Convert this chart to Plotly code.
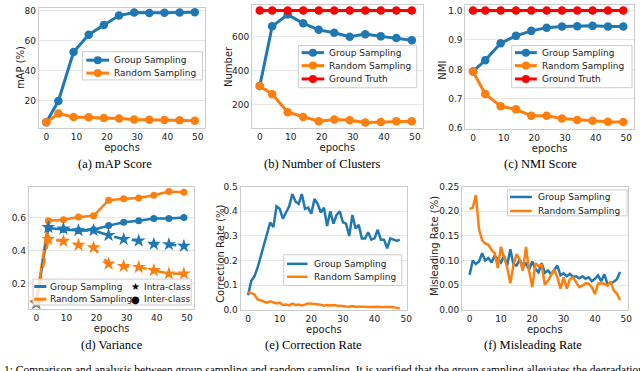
import plotly.graph_objects as go

W, H = 640, 371
BLUE, ORANGE, RED = "#1f77b4", "#ff7f0e", "#ff0000"
SANS, SERIF = "DejaVu Sans", "Liberation Serif"
TXT = "#222222"

# ---- data ----
epochs = [0, 4, 9, 14, 19, 24, 29, 34, 39, 44, 49]
epochs_all = list(range(49))

map_group = [5.5, 19.7, 52.5, 64.0, 70.5, 76.8, 78.8, 78.5, 78.7, 78.8, 79.0]
map_random = [5.5, 11.3, 9.0, 8.8, 8.3, 8.1, 7.4, 7.2, 7.0, 6.8, 6.6]

clusters_group = [310, 659, 727, 676, 638, 621, 598, 613, 600, 590, 577]
clusters_random = [310, 263, 158, 130, 105, 115, 111, 98, 100, 105, 105]
clusters_truth = [751, 751, 751, 751, 751, 751, 751, 751, 751, 751, 751]

nmi_group = [0.793, 0.831, 0.889, 0.914, 0.931, 0.942, 0.946, 0.947, 0.948, 0.946, 0.946]
nmi_random = [0.793, 0.716, 0.675, 0.664, 0.642, 0.642, 0.633, 0.628, 0.625, 0.622, 0.621]
nmi_truth = [1.0, 1.0, 1.0, 1.0, 1.0, 1.0, 1.0, 1.0, 1.0, 1.0, 1.0]

var_group_inter = [0.087, 0.536, 0.528, 0.522, 0.526, 0.551, 0.571, 0.580, 0.594, 0.594, 0.600]
var_group_intra = [0.083, 0.541, 0.532, 0.522, 0.522, 0.493, 0.469, 0.460, 0.440, 0.438, 0.428]
var_random_inter = [0.095, 0.580, 0.586, 0.602, 0.610, 0.703, 0.713, 0.717, 0.733, 0.756, 0.752]
var_random_intra = [0.090, 0.469, 0.458, 0.434, 0.419, 0.321, 0.307, 0.301, 0.282, 0.262, 0.262]

corr_group = [0.059, 0.118, 0.136, 0.171, 0.217, 0.263, 0.300, 0.355, 0.336, 0.420,
              0.410, 0.370, 0.395, 0.420, 0.470, 0.440, 0.430, 0.470, 0.410, 0.415,
              0.390, 0.450, 0.430, 0.395, 0.415, 0.340, 0.400, 0.350, 0.385, 0.400,
              0.355, 0.350, 0.300, 0.385, 0.330, 0.345, 0.290, 0.290, 0.315, 0.285,
              0.290, 0.325, 0.285, 0.285, 0.250, 0.290, 0.285, 0.280, 0.285]
corr_random = [0.072, 0.068, 0.063, 0.042, 0.037, 0.034, 0.029, 0.035, 0.029, 0.026,
               0.029, 0.020, 0.022, 0.018, 0.025, 0.020, 0.022, 0.018, 0.021, 0.026,
               0.025, 0.024, 0.022, 0.021, 0.017, 0.020, 0.018, 0.020, 0.018, 0.016,
               0.017, 0.014, 0.013, 0.016, 0.013, 0.014, 0.012, 0.013, 0.012, 0.013,
               0.012, 0.013, 0.012, 0.013, 0.013, 0.012, 0.011, 0.007, 0.005]

mis_group = [0.071, 0.100, 0.093, 0.098, 0.115, 0.100, 0.105, 0.096, 0.110, 0.102,
             0.096, 0.110, 0.090, 0.123, 0.092, 0.090, 0.102, 0.088, 0.094, 0.082,
             0.098, 0.083, 0.076, 0.095, 0.075, 0.080, 0.072, 0.081, 0.090, 0.070,
             0.074, 0.068, 0.073, 0.067, 0.068, 0.064, 0.068, 0.063, 0.066, 0.058,
             0.063, 0.070, 0.058, 0.072, 0.052, 0.054, 0.057, 0.062, 0.077]
mis_random = [0.205, 0.207, 0.233, 0.164, 0.141, 0.135, 0.132, 0.122, 0.115, 0.085,
              0.128, 0.105, 0.086, 0.054, 0.091, 0.113, 0.102, 0.079, 0.128, 0.079,
              0.046, 0.095, 0.089, 0.091, 0.051, 0.059, 0.072, 0.082, 0.066, 0.043,
              0.066, 0.043, 0.0625, 0.066, 0.056, 0.046, 0.049, 0.054, 0.053, 0.046,
              0.032, 0.053, 0.054, 0.053, 0.049, 0.058, 0.039, 0.033, 0.020]

fig = go.Figure()


def ids(i):
    return ("x", "y") if i == 1 else (f"x{i}", f"y{i}")


def add_line(i, x, y, color, width=3, symbol=None, size=8, dash="solid"):
    xa, ya = ids(i)
    fig.add_trace(go.Scatter(
        x=x, y=y, xaxis=xa, yaxis=ya,
        mode="lines+markers" if symbol else "lines",
        line=dict(color=color, width=width, dash=dash),
        marker=dict(symbol=symbol or "circle", size=size, color=color, line_width=0),
        showlegend=False, hoverinfo="skip",
    ))


add_line(1, epochs, map_group, BLUE, symbol="circle", size=8.5)
add_line(1, epochs, map_random, ORANGE, symbol="circle", size=8.5)

add_line(2, epochs, clusters_group, BLUE, symbol="circle", size=8.5)
add_line(2, epochs, clusters_random, ORANGE, symbol="circle", size=8.5)
add_line(2, epochs, clusters_truth, RED, symbol="circle", size=8.5)

add_line(3, epochs, nmi_group, BLUE, symbol="circle", size=8.5)
add_line(3, epochs, nmi_random, ORANGE, symbol="circle", size=8.5)
add_line(3, epochs, nmi_truth, RED, symbol="circle", size=8.5)

add_line(4, epochs, var_group_inter, BLUE, width=2.5, symbol="circle", size=7)
add_line(4, epochs, var_random_inter, ORANGE, width=2.5, symbol="circle", size=7)
add_line(4, epochs, var_group_intra, BLUE, width=2.5, symbol="star", size=10.5, dash="dash")
add_line(4, epochs, var_random_intra, ORANGE, width=2.5, symbol="star", size=10.5, dash="dash")

add_line(5, epochs_all, corr_group, BLUE, width=2.5)
add_line(5, epochs_all, corr_random, ORANGE, width=2.5)

add_line(6, epochs_all, mis_group, BLUE, width=2.5)
add_line(6, epochs_all, mis_random, ORANGE, width=2.5)

# panel frames in pixels (left, top, right, bottom); y-title centre in pixels
panels = [
    dict(frame=(39, 2.7, 207, 126.7), xr=[-2.5, 52.5], yr=[1.5, 82.1],
         yt=[20, 40, 60, 80], fmt="d", title="mAP (%)", tpos=(20, 64)),
    dict(frame=(254, 0, 426, 126.5), xr=[-2.5, 52.5], yr=[65, 783],
         yt=[200, 400, 600], fmt="d", title="Number", tpos=(231, 63.5)),
    dict(frame=(469, 0, 639, 127.5), xr=[-2.5, 52.5], yr=[0.597, 1.019],
         yt=[0.6, 0.7, 0.8, 0.9, 1.0], fmt=".1f", title="NMI", tpos=(446, 67)),
    dict(frame=(29, 186.7, 196, 312.7), xr=[-2.5, 52.5], yr=[0.048, 0.785],
         yt=[0.2, 0.4, 0.6], fmt=".1f", title="", tpos=None),
    dict(frame=(242.4, 186.7, 410.6, 313.3), xr=[-2.4, 50.4], yr=[0, 0.5],
         yt=[0, 0.1, 0.2, 0.3, 0.4, 0.5], fmt=".1f", title="Correction Rate (%)",
         tpos=(221.5, 256)),
    dict(frame=(465.7, 186.7, 632.5, 313.3), xr=[-2.4, 50.4], yr=[0, 0.25],
         yt=[0, 0.05, 0.1, 0.15, 0.2, 0.25], fmt=".2f", title="Misleading Rate (%)",
         tpos=(438.5, 247.5)),
]


def P(x, y):
    return x / W, 1 - y / H


layout = {}
tickfont = dict(family=SANS, size=9, color=TXT)
titlefont = dict(family=SANS, size=10, color=TXT)
for i, p in enumerate(panels, start=1):
    l, t, r, b = p["frame"]
    xa, ya = ids(i)
    layout["xaxis" if i == 1 else f"xaxis{i}"] = dict(
        domain=[l / W, r / W], anchor=ya, range=p["xr"],
        tickvals=[0, 10, 20, 30, 40, 50], showgrid=False, zeroline=False,
        showline=True, mirror=True, linecolor="#cccccc", linewidth=1, ticks="", ticklen=0,
        tickfont=tickfont, title=dict(text="epochs", font=titlefont, standoff=0),
    )
    layout["yaxis" if i == 1 else f"yaxis{i}"] = dict(
        domain=[1 - b / H, 1 - t / H], anchor=xa, range=p["yr"],
        tickvals=p["yt"], tickformat=p["fmt"], showgrid=True, gridcolor="#e6e6e6",
        zeroline=False, showline=True, mirror=True, linecolor="#cccccc", linewidth=1,
        ticks="", ticklen=0, tickfont=tickfont,
    )
    if p["tpos"]:
        tx, ty = P(*p["tpos"])
        fig.add_annotation(x=tx, y=ty, xref="paper", yref="paper", text=p["title"],
                           textangle=-90, showarrow=False, xanchor="center", yanchor="middle",
                           font=titlefont)

fig.update_layout(
    width=W, height=H, margin=dict(l=0, r=0, t=0, b=0),
    paper_bgcolor="white", plot_bgcolor="white", showlegend=False,
    **layout,
)


# ---- legends drawn in figure pixels ----
def legend_box(x0, y0, x1, y1):
    a, d = P(x0, y0)
    c, e = P(x1, y1)
    fig.add_shape(type="rect", xref="paper", yref="paper", x0=a, x1=c, y0=e, y1=d,
                  fillcolor="rgba(255,255,255,0.8)", line=dict(color="#cccccc", width=1),
                  layer="above")


def legend_entry(lx0, lx1, y, tx, label, color, marker=True, width=3):
    a, yy = P(lx0, y)
    c, _ = P(lx1, y)
    fig.add_shape(type="line", xref="paper", yref="paper", x0=a, x1=c, y0=yy, y1=yy,
                  line=dict(color=color, width=width), layer="above")
    if marker:
        cx, cy = P((lx0 + lx1) / 2, y)
        fig.add_shape(type="circle", xref="paper", yref="paper", xsizemode="pixel",
                      ysizemode="pixel", xanchor=cx, yanchor=cy, x0=-4, x1=4, y0=-4, y1=4,
                      fillcolor=color, line_width=0, layer="above")
    tx_, ty_ = P(tx, y)
    fig.add_annotation(x=tx_, y=ty_, xref="paper", yref="paper", text=label, showarrow=False,
                       xanchor="left", yanchor="middle", font=dict(family=SANS, size=9, color=TXT))


legend_box(83, 48, 204, 77)
legend_entry(87, 110, 56.7, 113, "Group Sampling", BLUE)
legend_entry(87, 110, 70, 113, "Random Sampling", ORANGE)

legend_box(300.7, 41.7, 420, 85)
legend_entry(304, 326.7, 49, 330, "Group Sampling", BLUE)
legend_entry(304, 326.7, 62.3, 330, "Random Sampling", ORANGE)
legend_entry(304, 326.7, 76, 330, "Ground Truth", RED)

legend_box(515.7, 41.7, 637, 85)
legend_entry(519, 541, 49, 544, "Group Sampling", BLUE)
legend_entry(519, 541, 62.3, 544, "Random Sampling", ORANGE)
legend_entry(519, 541, 76, 544, "Ground Truth", RED)

legend_box(33.3, 281.7, 192.7, 308.3)
legend_entry(34.5, 46.7, 289.3, 48, "Group Sampling", BLUE, marker=False)
legend_entry(34.5, 46.7, 302.3, 48, "Random Sampling", ORANGE, marker=False)
for yy, sym, label in [(289.3, "★", "Intra-class"), (302.3, "●", "Inter-class")]:
    sx, sy = P(136.7, yy)
    fig.add_annotation(x=sx, y=sy, xref="paper", yref="paper", text=sym, showarrow=False,
                       xanchor="center", yanchor="middle", font=dict(family=SANS, size=10, color="black"))
    tx, ty = P(143, yy)
    fig.add_annotation(x=tx, y=ty, xref="paper", yref="paper", text=label, showarrow=False,
                       xanchor="left", yanchor="middle", font=dict(family=SANS, size=9, color=TXT))

legend_box(286, 256.7, 405, 288.3)
legend_entry(289.3, 310, 266, 314, "Group Sampling", BLUE, marker=False, width=2.5)
legend_entry(289.3, 310, 279.3, 314, "Random Sampling", ORANGE, marker=False, width=2.5)

legend_box(511.5, 190, 632, 216.7)
legend_entry(514, 536, 197.3, 540, "Group Sampling", BLUE, marker=False, width=2.5)
legend_entry(514, 536, 211.7, 540, "Random Sampling", ORANGE, marker=False, width=2.5)

# ---- sub-captions ----
captions = [(116, 163, "(a) mAP Score"), (325, 163, "(b) Number of Clusters"),
            (545, 163, "(c) NMI Score"), (113, 349, "(d) Variance"),
            (316, 349, "(e) Correction Rate"), (537, 349, "(f) Misleading Rate")]
for cx, cy, text in captions:
    x, y = P(cx, cy)
    fig.add_annotation(x=x, y=y, xref="paper", yref="paper", text=text, showarrow=False,
                       xanchor="center", yanchor="middle", font=dict(family=SERIF, size=12.5, color="black"))

# figure caption line, cut by the bottom edge as in the source page
x, y = P(2, 367)
fig.add_annotation(x=x, y=y, xref="paper", yref="paper", showarrow=False, xanchor="left", yanchor="top",
                   text="1: Comparison and analysis between group sampling and random sampling. "
                        "It is verified that the group sampling alleviates the degradation of the",
                   font=dict(family=SERIF, size=11.5, color="black"))

# the page's default body margin would shift the 640x371 figure off the window
fig.write_html("out.html", config={"displayModeBar": False},
               post_script="document.body.style.margin='0';")
